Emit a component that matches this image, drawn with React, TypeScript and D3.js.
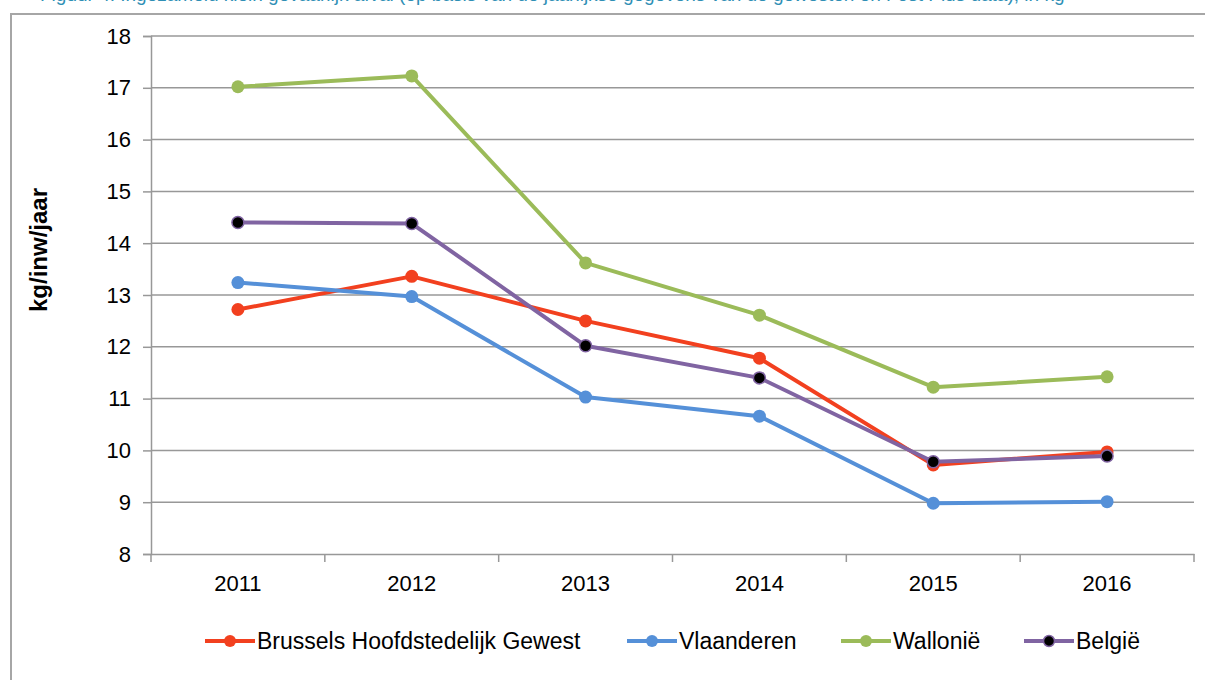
import React, { useEffect, useRef } from "react";
import * as d3 from "d3";

// Years on the x axis.
const years = ["2011", "2012", "2013", "2014", "2015", "2016"];

// kg per inhabitant per year.
const brussels = [12.72, 13.36, 12.5, 11.78, 9.72, 9.97];
const vlaanderen = [13.24, 12.97, 11.03, 10.66, 8.98, 9.01];
const wallonie = [17.02, 17.23, 13.62, 12.61, 11.22, 11.42];
const belgie = [14.4, 14.38, 12.02, 11.4, 9.78, 9.89];

const yTicks = [8, 9, 10, 11, 12, 13, 14, 15, 16, 17, 18];

const seriesNames = ["Brussels Hoofdstedelijk Gewest", "Vlaanderen", "Wallonië", "België"];
const seriesValues = [brussels, vlaanderen, wallonie, belgie];

const App = () => {
  const chartRef = useRef<SVGSVGElement>(null);

  useEffect(() => {
    const width = 1205;
    const height = 680;
    const margin = { left: 151, right: 11, top: 36, bottom: 126 };
    const font = "'Liberation Sans', Arial, sans-serif";

    const colors = ["#f2401f", "#5590d8", "#9bbb59", "#8064a2"];

    const svg = d3.select(chartRef.current)
      .attr("width", width)
      .attr("height", height);

    svg.selectAll("*").remove();

    // Caption above the frame, mostly cut off by the page top (as in the source)
    svg.append("text")
      .attr("x", 40)
      .attr("y", 1)
      .attr("font-family", font)
      .attr("font-size", 19)
      .attr("fill", "#2f8fb5")
      .text("Figuur 4: Ingezameld klein gevaarlijk afval (op basis van de jaarlijkse gegevens van de gewesten en Fost Plus data), in kg");

    // Outer frame
    svg.append("path")
      .attr("d", `M11,${height} L11,14 L${width},14`)
      .attr("fill", "none")
      .attr("stroke", "#a6a6a6")
      .attr("stroke-width", 2);

    const x = d3.scaleBand()
      .domain(years)
      .range([margin.left, width - margin.right]);

    const y = d3.scaleLinear()
      .domain([8, 18])
      .range([height - margin.bottom, margin.top]);

    // Gridlines
    svg.append("g")
      .selectAll("line")
      .data(yTicks.slice(1))
      .join("line")
      .attr("x1", margin.left)
      .attr("x2", width - margin.right)
      .attr("y1", d => y(d))
      .attr("y2", d => y(d))
      .attr("stroke", "#989898")
      .attr("stroke-width", 1.5);

    // Y axis
    const yAxis = svg.append("g")
      .attr("transform", `translate(${margin.left},0)`)
      .call(d3.axisLeft(y).tickValues(yTicks).tickSize(8).tickPadding(12).tickFormat(d3.format("d")));
    yAxis.select(".domain").attr("stroke", "#989898").attr("stroke-width", 1.5);
    yAxis.selectAll(".tick line").attr("stroke", "#989898").attr("stroke-width", 1.5);
    yAxis.selectAll(".tick text")
      .attr("font-family", font)
      .attr("font-size", 22)
      .attr("fill", "#000");

    // X axis (ticks sit between categories)
    const xAxis = svg.append("g")
      .attr("transform", `translate(0,${y(8)})`)
      .call(d3.axisBottom(x).tickSize(0));
    xAxis.select(".domain").attr("stroke", "#989898").attr("stroke-width", 1.5);
    xAxis.selectAll(".tick text")
      .attr("y", 37)
      .attr("dy", 0)
      .attr("font-family", font)
      .attr("font-size", 22)
      .attr("fill", "#000");
    xAxis.selectAll("line.sep")
      .data(d3.range(years.length + 1))
      .join("line")
      .attr("class", "sep")
      .attr("x1", i => margin.left + i * x.step())
      .attr("x2", i => margin.left + i * x.step())
      .attr("y1", 0)
      .attr("y2", 8)
      .attr("stroke", "#989898")
      .attr("stroke-width", 1.5);

    // Y axis title
    svg.append("text")
      .attr("transform", `translate(47,250) rotate(-90)`)
      .attr("text-anchor", "middle")
      .attr("font-family", font)
      .attr("font-size", 24)
      .attr("font-weight", "bold")
      .text("kg/inw/jaar");

    const line = d3.line<number>()
      .x((d, i) => x(years[i])! + x.bandwidth() / 2)
      .y(d => y(d));

    seriesValues.forEach((vals, s) => {
      const g = svg.append("g");
      g.append("path")
        .datum(vals)
        .attr("fill", "none")
        .attr("stroke", colors[s])
        .attr("stroke-width", 4)
        .attr("stroke-linejoin", "round")
        .attr("d", line);
      g.selectAll("circle")
        .data(vals)
        .join("circle")
        .attr("cx", (d, i) => x(years[i])! + x.bandwidth() / 2)
        .attr("cy", d => y(d))
        .attr("r", s === 3 ? 6 : 6.5)
        .attr("fill", s === 3 ? "#000" : colors[s])
        .attr("stroke", s === 3 ? colors[s] : "none")
        .attr("stroke-width", 1.5);
    });

    // Legend
    const legendX = [205, 627, 841, 1024];
    const legendY = 641;
    const legend = svg.append("g");
    seriesNames.forEach((name, s) => {
      const lx = legendX[s];
      legend.append("line")
        .attr("x1", lx)
        .attr("x2", lx + 50)
        .attr("y1", legendY)
        .attr("y2", legendY)
        .attr("stroke", colors[s])
        .attr("stroke-width", 4);
      legend.append("circle")
        .attr("cx", lx + 25)
        .attr("cy", legendY)
        .attr("r", s === 3 ? 5.5 : 6)
        .attr("fill", s === 3 ? "#000" : colors[s])
        .attr("stroke", s === 3 ? colors[s] : "none")
        .attr("stroke-width", 1.5);
      legend.append("text")
        .attr("x", lx + 52)
        .attr("y", legendY)
        .attr("dy", "0.35em")
        .attr("font-family", font)
        .attr("font-size", 23)
        .attr("fill", "#000")
        .text(name);
    });
  }, []);

  return (
    <svg ref={chartRef} style={{ position: "absolute", left: 0, top: 0, background: "#fff" }}></svg>
  );
};

export default App;
